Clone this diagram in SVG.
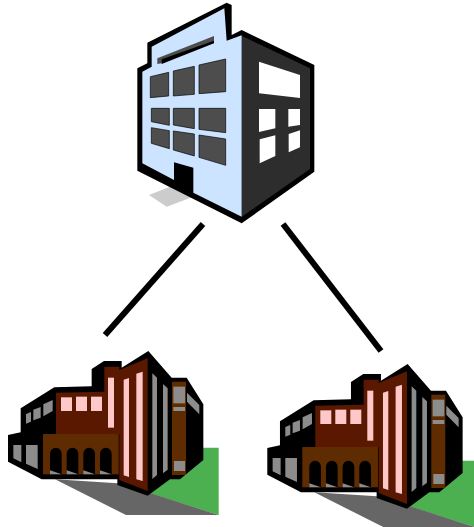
<svg xmlns="http://www.w3.org/2000/svg" xmlns:xlink="http://www.w3.org/1999/xlink" width="474" height="527" viewBox="0 0 474 527">
<style>
.k{fill:#000}.b{fill:#5a1800}.o{fill:#5e2c00}.p{fill:#ffc8c8}.g{fill:#8c8c8c}.w{fill:#fff}.d{fill:#4d4d4d;stroke:#000;stroke-width:2}
.c{stroke:#000;stroke-width:6;fill:none}
</style>
<defs>
<g id="site">
<polygon points="600,308 656,308 656,510 450,445" fill="#4caf50"/>
<polygon points="165,403 378,510 656,510 460,447 352,415" fill="#666"/>
<polygon class="k" points="24,270 62,262 62,190 163,127 275,124 275,72 312,48 365,48 365,68 445,18 515,98 560,98 610,178 610,345 540,403 510,403 443,452 352,420 352,403 125,403 24,350"/>
<polygon class="b" points="168,143 313,140 313,65 358,65 358,75 443,40 443,438 358,405 358,268 168,268"/>
<rect class="p" x="183" y="157" width="33" height="41"/>
<rect class="p" x="228" y="155" width="33" height="43"/>
<rect class="p" x="273" y="155" width="33" height="43"/>
<rect class="p" x="324" y="98" width="18" height="150"/>
<polygon class="p" points="371,104 387,99 387,396 371,391"/>
<polygon class="p" points="409,86 428,80 428,408 409,403"/>
<rect class="o" x="129" y="267" width="227" height="121"/>
<path class="k" d="M150 388V326a17.500 18 0 0 1 35 0V388ZM200 388V326a17.500 18 0 0 1 35 0V388ZM250 388V326a17.500 18 0 0 1 35 0V388ZM300 388V326a17.500 18 0 0 1 35 0V388Z"/>
<polygon class="g" points="150,376 185,388 150,388"/>
<polygon class="g" points="200,376 235,388 200,388"/>
<polygon class="g" points="250,376 285,388 250,388"/>
<polygon class="g" points="300,376 335,388 300,388"/>
<polygon class="g" points="457,85 471,98 471,390 457,402"/>
<polygon class="g" points="489,117 503,130 503,374 489,385"/>
<rect class="o" x="516" y="110" width="42" height="280"/>
<rect class="g" x="520" y="125" width="35" height="50"/>
<rect class="g" x="520" y="186" width="35" height="12"/>
<rect class="g" x="522" y="348" width="33" height="30"/>
<polygon class="g" points="561,143 598,180 598,208 561,170"/>
<polygon class="g" points="78,207 93,201 93,230 78,236"/>
<polygon class="g" points="100,194 122,186 122,218 100,226"/>
<polygon class="g" points="130,178 158,165 158,198 130,214"/>
<polygon class="g" points="40,300 64,300 64,352 40,340"/>
<polygon class="g" points="78,300 113,300 113,372 78,356"/>
</g>
</defs>
<g id="connectors">
<line class="c" x1="203" y1="224" x2="105" y2="335"/>
<line class="c" x1="283" y1="224" x2="381" y2="351"/>
</g>
<g id="office" transform="translate(130 0) scale(.33333)">
<polygon points="57,585 120,560 190,590 110,620" fill="#ccc"/>
<polygon class="k" points="22,205 52,190 52,128 290,8 305,15 305,105 335,90 553,195 553,515 335,670 22,512"/>
<polygon points="37,215 65,200 65,140 283,25 290,122 335,106 335,650 190,578 190,503 132,487 132,540 37,490" fill="#cce4ff"/>
<polygon points="336,108 540,205 540,507 336,650" fill="#2d2d2d"/>
<polygon points="82,175 252,108 252,125 95,190 82,192" fill="#4d4d4d"/>
<polygon class="k" points="95,178 252,122 252,130 95,192"/>
<polygon class="d" points="61,230 116,217 116,288 61,293"/>
<polygon class="d" points="130,213 193,199 193,283 130,288"/>
<polygon class="d" points="207,195 287,177 287,275 207,281"/>
<polygon class="d" points="64,325 118,325 118,376 64,365"/>
<polygon class="d" points="130,325 193,325 193,386 130,375"/>
<polygon class="d" points="207,325 287,325 287,398 207,388"/>
<polygon class="d" points="64,383 118,392 118,446 64,430"/>
<polygon class="d" points="130,393 193,402 193,468 130,450"/>
<polygon class="d" points="207,405 287,417 287,496 207,472"/>
<polygon class="w" points="387,185 510,225 510,294 387,280"/>
<polygon class="w" points="387,327 436,327 436,385 387,396"/>
<polygon class="w" points="475,327 510,327 510,375 475,380"/>
<polygon class="w" points="389,418 436,406 436,468 389,490"/>
<polygon class="w" points="476,402 510,391 510,442 476,457"/>
</g>
<g id="factory-left" transform="translate(0 345) scale(.33333)"><use xlink:href="#site" href="#site"/></g>
<g id="factory-right" transform="translate(259.300 358) scale(.33333)"><use xlink:href="#site" href="#site"/></g>
</svg>
